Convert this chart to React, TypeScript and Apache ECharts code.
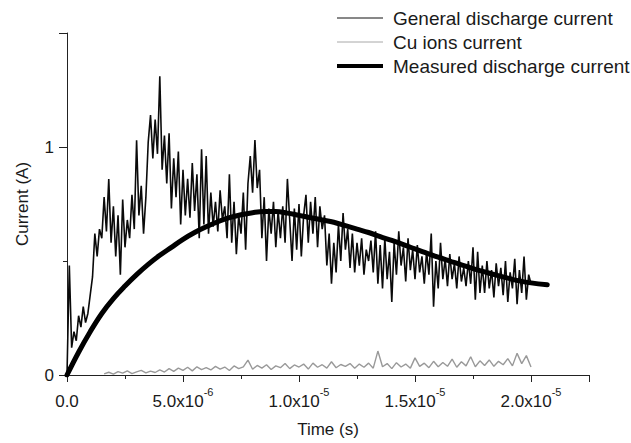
import React, { useEffect, useRef } from "react";
import * as echarts from "echarts";

// General discharge current (A), sampled every 0.1 µs from t = 0
const generalStep = 1e-7;
const generalCurrent = [
  0.00, 0.48, 0.12, 0.19, 0.15, 0.26, 0.21, 0.30, 0.23, 0.27,
  0.35, 0.43, 0.62, 0.52, 0.64, 0.60, 0.78, 0.63, 0.86, 0.58,
  0.74, 0.52, 0.70, 0.44, 0.77, 0.56, 0.68, 0.60, 0.79, 0.64,
  1.03, 0.70, 0.83, 0.62, 0.78, 1.02, 1.14, 0.95, 1.12, 0.97,
  1.31, 0.90, 1.05, 0.84, 1.06, 0.73, 0.95, 0.78, 0.98, 0.66,
  0.90, 0.70, 0.86, 0.69, 0.93, 0.72, 0.88, 0.60, 0.99, 0.66,
  0.96, 0.62, 0.80, 0.65, 0.76, 0.63, 0.81, 0.68, 0.74, 0.60,
  0.88, 0.58, 0.76, 0.53, 0.70, 0.62, 0.80, 0.55, 0.84, 0.96,
  0.80, 1.03, 0.82, 0.90, 0.60, 0.78, 0.50, 0.73, 0.62, 0.76,
  0.56, 0.72, 0.60, 0.74, 0.58, 0.86, 0.68, 0.50, 0.73, 0.55,
  0.75, 0.52, 0.70, 0.79, 0.58, 0.76, 0.62, 0.78, 0.56, 0.74,
  0.64, 0.70, 0.48, 0.62, 0.40, 0.58, 0.45, 0.66, 0.50, 0.71,
  0.55, 0.64, 0.47, 0.62, 0.45, 0.58, 0.48, 0.60, 0.44, 0.55,
  0.50, 0.59, 0.45, 0.63, 0.40, 0.57, 0.38, 0.60, 0.42, 0.54,
  0.32, 0.58, 0.44, 0.63, 0.48, 0.56, 0.41, 0.60, 0.46, 0.55,
  0.42, 0.57, 0.45, 0.52, 0.40, 0.54, 0.44, 0.62, 0.30, 0.50,
  0.38, 0.58, 0.42, 0.51, 0.39, 0.53, 0.42, 0.49, 0.38, 0.52,
  0.41, 0.47, 0.39, 0.50, 0.40, 0.56, 0.33, 0.54, 0.36, 0.48,
  0.36, 0.50, 0.38, 0.46, 0.34, 0.49, 0.39, 0.47, 0.35, 0.50,
  0.32, 0.45, 0.38, 0.51, 0.31, 0.46, 0.36, 0.52, 0.33, 0.44,
  0.40,
];

// Cu ions current (A), sampled every 0.2 µs from t = 1.6 µs
const cuStart = 1.6e-6;
const cuStep = 2e-7;
const cuCurrent = [
  0.005, 0.012, 0.004, 0.015, 0.008, 0.018, 0.006, 0.014, 0.020, 0.009,
  0.017, 0.011, 0.022, 0.013, 0.028, 0.016, 0.030, 0.020, 0.034, 0.018,
  0.036, 0.024, 0.032, 0.022, 0.038, 0.026, 0.035, 0.020, 0.040, 0.028,
  0.036, 0.065, 0.025, 0.042, 0.030, 0.045, 0.024, 0.040, 0.032, 0.050,
  0.028, 0.044, 0.035, 0.048, 0.026, 0.052, 0.034, 0.045, 0.030, 0.058,
  0.032, 0.046, 0.038, 0.050, 0.030, 0.048, 0.034, 0.052, 0.030, 0.105,
  0.036, 0.050, 0.028, 0.054, 0.035, 0.048, 0.030, 0.075, 0.038, 0.052,
  0.032, 0.060, 0.036, 0.055, 0.038, 0.070, 0.034, 0.058, 0.040, 0.080,
  0.036, 0.062, 0.042, 0.066, 0.038, 0.060, 0.045, 0.072, 0.040, 0.095,
  0.050, 0.085, 0.035,
];

// Measured discharge current (A) at times in µs
const measuredTimeUs = [
  0, 0.5, 1, 1.5, 2, 2.5, 3, 3.5, 4, 4.5, 5, 5.5, 6, 6.5, 7, 7.5, 8, 8.5, 9, 9.5,
  10, 10.5, 11, 11.5, 12, 12.5, 13, 13.5, 14, 14.5, 15, 15.5, 16, 16.5, 17, 17.5,
  18, 18.5, 19, 19.5, 20, 20.7,
];
const measuredCurrent = [
  0, 0.10, 0.19, 0.27, 0.335, 0.39, 0.44, 0.485, 0.525, 0.56, 0.595, 0.625, 0.65, 0.672,
  0.69, 0.703, 0.712, 0.717, 0.717, 0.71, 0.70, 0.69, 0.68, 0.67, 0.655, 0.64, 0.625,
  0.607, 0.59, 0.572, 0.553, 0.535, 0.517, 0.50, 0.483, 0.467, 0.452, 0.438, 0.425,
  0.413, 0.404, 0.396,
];

const xTickLabels = ["{b|0.0}", "{b|5.0x10}{s|-6}", "{b|1.0x10}{s|-5}", "{b|1.5x10}{s|-5}", "{b|2.0x10}{s|-5}", ""];
const yTickLabels: Record<string, string> = { "0": "0", "1": "1" };

const legendNames = ["General discharge current", "Cu ions current", "Measured discharge current"];
const FONT = "'Liberation Sans', Arial, Helvetica, sans-serif";
const TEXT = "#1a1a1a";

export default function App() {
  const ref = useRef<HTMLDivElement>(null);
  useEffect(() => {
    if (!ref.current) return;
    const chart = echarts.init(ref.current, undefined, { renderer: "svg" });
    const generalData = generalCurrent.map((v, i) => [i * generalStep, v]);
    const cuData = cuCurrent.map((v, i) => [cuStart + i * cuStep, v]);
    const measuredData = measuredCurrent.map((v, i) => [measuredTimeUs[i] * 1e-6, v]);
    const legendY = [18, 42, 66];
    const legendColors = ["#111", "#a8a8a8", "#000"];
    const legendWidths = [1, 1, 4];
    const graphic: any[] = [];
    legendNames.forEach((name, i) => {
      graphic.push({
        type: "line",
        shape: { x1: 337, y1: legendY[i], x2: 383, y2: legendY[i] },
        style: { stroke: legendColors[i], lineWidth: legendWidths[i] },
      });
      graphic.push({
        type: "text",
        x: 393,
        y: legendY[i],
        style: { text: name, fontSize: 19, fontFamily: FONT, fill: TEXT, verticalAlign: "middle" },
      });
    });
    chart.setOption({
      animation: false,
      backgroundColor: "#fff",
      grid: { left: 67, right: 42, top: 33, bottom: 65, containLabel: false },
      xAxis: {
        type: "value",
        min: 0,
        max: 2.25e-5,
        interval: 5e-6,
        name: "Time (s)",
        nameLocation: "middle",
        nameGap: 46,
        nameTextStyle: { fontSize: 17, fontFamily: FONT, color: TEXT },
        axisLine: { show: true, lineStyle: { color: "#222", width: 1 } },
        axisTick: { show: true, length: 7, lineStyle: { color: "#222" } },
        minorTick: { show: true, splitNumber: 2, length: 4, lineStyle: { color: "#222" } },
        splitLine: { show: false },
        minorSplitLine: { show: false },
        axisLabel: {
          margin: 11,
          color: TEXT,
          formatter: (v: number) => xTickLabels[Math.round(v / 5e-6)] ?? "",
          rich: {
            b: { fontSize: 17, fontFamily: FONT, color: TEXT, lineHeight: 24, verticalAlign: "bottom" },
            s: { fontSize: 11, fontFamily: FONT, color: TEXT, lineHeight: 11, verticalAlign: "top" },
          },
        },
      },
      yAxis: {
        type: "value",
        min: 0,
        max: 1.5,
        interval: 1,
        name: "Current (A)",
        nameLocation: "middle",
        nameGap: 36,
        nameTextStyle: { fontSize: 17, fontFamily: FONT, color: TEXT },
        axisLine: { show: true, lineStyle: { color: "#222", width: 1 } },
        axisTick: { show: true, length: 8, lineStyle: { color: "#222" } },
        minorTick: { show: true, splitNumber: 2, length: 4, lineStyle: { color: "#222" } },
        splitLine: { show: false },
        minorSplitLine: { show: false },
        axisLabel: {
          margin: 13,
          fontSize: 17,
          fontFamily: FONT,
          color: TEXT,
          formatter: (v: number) => yTickLabels[String(v)] ?? "",
        },
      },
      graphic,
      series: [
        {
          name: legendNames[0],
          type: "line",
          data: generalData,
          showSymbol: false,
          symbol: "none",
          lineStyle: { color: "#0a0a0a", width: 1.6 },
          z: 2,
        },
        {
          name: legendNames[1],
          type: "line",
          data: cuData,
          showSymbol: false,
          symbol: "none",
          lineStyle: { color: "#999", width: 1.4 },
          z: 3,
        },
        {
          name: legendNames[2],
          type: "line",
          data: measuredData,
          showSymbol: false,
          symbol: "none",
          smooth: 0.4,
          lineStyle: { color: "#000", width: 5, cap: "round" },
          z: 4,
        },
      ],
    });
    return () => chart.dispose();
  }, []);
  return (
    <div
      ref={ref}
      style={{ position: "absolute", left: 0, top: 0, width: 631, height: 443, background: "#fff" }}
    />
  );
}
